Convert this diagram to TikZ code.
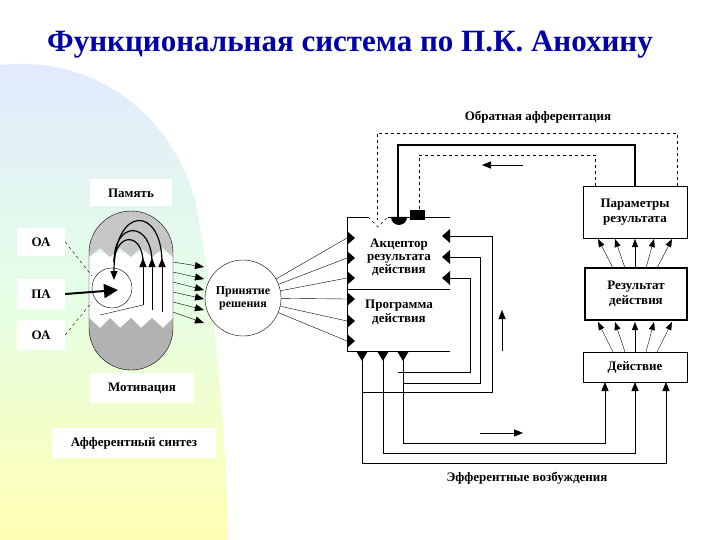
\documentclass[tikz,border=0pt]{standalone}
\usepackage{fontspec}
\setmainfont{Liberation Serif}
\usetikzlibrary{arrows.meta}
\definecolor{ttl}{RGB}{0,0,170}
\begin{document}
\begin{tikzpicture}[x=1pt,y=-1pt,
  lbl/.style={fill=white,font=\bfseries\fontsize{13}{14}\selectfont,align=center,inner sep=2pt},
  box/.style={draw,fill=white,font=\bfseries\fontsize{13}{15}\selectfont,align=center,inner sep=0pt},
  ar/.style={-{Triangle[length=9pt,width=7pt]}},
  sar/.style={-{Triangle[length=8pt,width=6pt]},thin}]
\useasboundingbox (0,0) rectangle (720,540);
% background shade
\shade[top color=cyan!30!blue!12,bottom color=yellow!30,middle color=green!10]
  (0,65) .. controls (90,55) and (170,110) .. (195,200) .. controls (215,300) and (225,420) .. (228,540) -- (0,540) -- cycle;
\node[font=\bfseries\fontsize{31}{34}\selectfont,text=ttl] (title) at (350,45) {Функциональная система по П.К. Анохину};
% left labels
\node[lbl,minimum width=48,minimum height=27] (oa1) at (41,242) {ОА};
\node[lbl,minimum width=48,minimum height=30] (pa) at (41,294) {ПА};
\node[lbl,minimum width=48,minimum height=30] (oa2) at (41,335) {ОА};
% capsule
\fill[white] (89,253) rectangle (173,328);
\fill[gray!45] (89,253) arc(180:360:42) -- (173,257) -- (163,248) -- (152,257) -- (141,248) -- (131,257) -- (120,248) -- (110,257) -- (100,248) -- (89,257) -- cycle;
\fill[gray!60] (89,328) arc(180:0:42) -- (173,318) -- (163,328) -- (152,318) -- (141,328) -- (131,318) -- (120,328) -- (110,318) -- (100,328) -- (89,318) -- cycle;
\draw (89,253) arc(180:360:42) -- (173,328) arc(0:180:42) -- cycle;
\node[lbl,minimum width=82,minimum height=27] (mem) at (131,193) {Память};
\node[lbl,minimum width=104,minimum height=30] (mot) at (142,388) {Мотивация};
\node[lbl,minimum width=164,minimum height=30] (as) at (134,443) {Афферентный синтез};
\node[draw,circle,fill=white,minimum size=40] (inner) at (112,288) {};
\draw[dashed] (oa1.east) -- (92,276);
\draw[dashed] (oa2.east) -- (92,302);
\draw[line width=2pt,-{Triangle[length=14pt,width=14pt]}] (pa.east) -- (118,290);
% memory arcs
\draw[line width=1.2pt] (143,263) .. controls (143,232) and (116,232) .. (114,262);
\draw[line width=1.2pt] (152,263) .. controls (152,220) and (114,220) .. (114,262);
\draw[line width=1.2pt,ar] (162,263) .. controls (162,205) and (114,205) .. (114,280);
\foreach \x in {143,152,162}{\draw[ar] (\x,305) -- (\x,258);}
\draw (143,305) -- (100,315);
\draw (152,305) -- (152,310);\draw (162,305) -- (162,312);
% to decision
\node[draw,circle,fill=white,minimum size=76,inner sep=0pt,font=\bfseries\fontsize{12}{13}\selectfont,align=center] (dec) at (243,298) {Принятие\\решения};
\foreach \ya/\yb in {262/267,272/279,282/290,292/299,302/310,312/323}{\draw[ar] (173,\ya) -- (204,\yb);}
% acceptor/program box
\draw (347,217) -- (368,217) (430,217) -- (450,217);
\draw (347,217) -- (347,351) -- (450,351);
\draw (347,289) -- (450,289);
\node[font=\bfseries\fontsize{13}{13}\selectfont,align=center] (acc) at (399,257) {Акцептор\\результата\\действия};
\node[font=\bfseries\fontsize{13}{14}\selectfont,align=center] (prog) at (399,312) {Программа\\действия};
% top notches
\draw[dashed,fill=white] (368,217) -- (378,227) -- (388,217);
\fill (391,217) arc(180:0:8) -- cycle;
\draw (388,217) -- (391,217) (407,217) -- (410,217);
\fill (410,210) rectangle (425,220);
\draw (425,217) -- (430,217);
% left zigzag inputs
\foreach \y in {238,258,278,299,321,341}{
  \draw (dec) -- (347,\y);
  \fill (347,\y-7) -- (355,\y) -- (347,\y+7) -- cycle;}
% right notches and feedback lines
\foreach \y/\x/\yy/\xe in {236/492/392/363,257/480/383/403,278/470/372/398}{
  \fill (450,\y-7) -- (442,\y) -- (450,\y+7) -- cycle;
  \draw (450,\y) -- (\x,\y) -- (\x,\yy) -- (\xe,\yy);}
% right boxes
\node[box,minimum width=104,minimum height=52] (par) at (635,212) {Параметры\\результата};
\node[box,line width=1.8pt,minimum width=102,minimum height=52] (res) at (636,294) {Результат\\действия};
\node[box,minimum width=104,minimum height=30] (act) at (635,367) {Действие};
\foreach \a/\b in {613/598,625/615,635/635,646/654,657/672}{
  \draw[sar] (\a,352) -- (\b,322);
  \draw[sar] (\a,268) -- (\b,239);}
% efferent
\foreach \x/\y/\t in {362/463/666,383/453/635,403/443/605}{
  \fill (\x-6,351) -- (\x+6,351) -- (\x,361) -- cycle;
  \draw[ar] (\x,355) -- (\x,\y) -- (\t,\y) -- (\t,382);}
% feedback from parameters
\draw[dashed] (677,186) -- (677,133) -- (377,133) -- (377,220);
\draw[line width=2pt] (635,186) -- (635,145) -- (398,145) -- (398,218);
\draw[dashed] (595,186) -- (595,155) -- (419,155) -- (419,212);
% small arrows
\draw[ar] (523,165) -- (482,165);
\draw[ar] (502,351) -- (502,310);
\draw[ar] (480,433) -- (523,433);
\node[font=\bfseries\fontsize{13}{14}\selectfont] (oaf) at (538,117) {Обратная афферентация};
\node[font=\bfseries\fontsize{13}{14}\selectfont] (eff) at (527,478) {Эфферентные возбуждения};
\end{tikzpicture}
\end{document}
